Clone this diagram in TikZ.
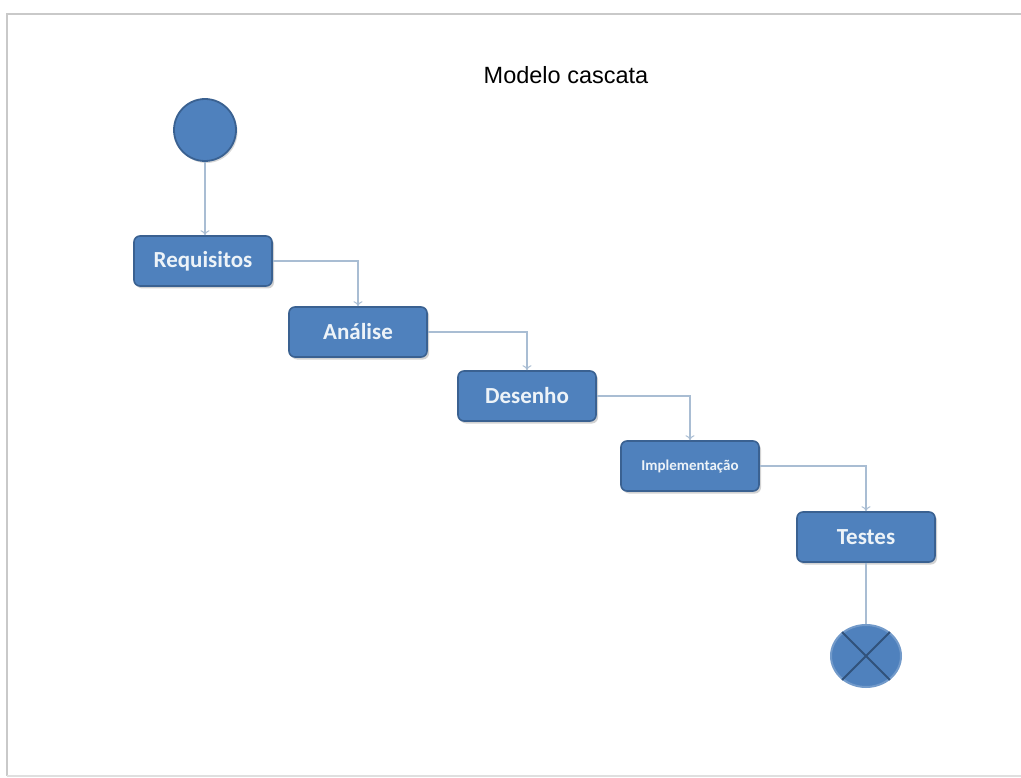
\documentclass[tikz,border=0pt]{standalone}
\usepackage{fontspec}
\setmainfont{Liberation Sans}
\newfontfamily\labelfont{Carlito}
\usetikzlibrary{arrows.meta,shadows,shapes.geometric}
\definecolor{stepfill}{HTML}{4F81BD}
\definecolor{stepline}{HTML}{3A6191}
\definecolor{flowline}{HTML}{A9BDD3}
\definecolor{framegray}{HTML}{C9C9C9}
\begin{document}
\begin{tikzpicture}[x=1pt,y=-1pt,
  stepbox/.style={draw=stepline, line width=1.6pt, fill=stepfill, rounded corners=6pt,
    minimum width=138pt, minimum height=50pt, inner sep=0pt,
    text=white!90!stepfill, font=\labelfont\bfseries\fontsize{23}{26}\selectfont,
    drop shadow={opacity=0.35, shadow xshift=2pt, shadow yshift=-2.5pt}},
  startdot/.style={circle, draw=stepline, line width=1.8pt, fill=stepfill, minimum size=62pt, inner sep=0pt,
    drop shadow={opacity=0.3, shadow xshift=1.5pt, shadow yshift=-2pt}},
  enddot/.style={ellipse, draw=stepfill!80!white, line width=2pt, fill=stepfill, minimum width=70pt, minimum height=62pt, inner sep=0pt},
  flow/.style={draw=flowline, line width=1.5pt, -{To[length=5pt,width=9pt,line width=1pt]}},
  plainflow/.style={draw=flowline, line width=1.5pt}
]
% page and frame
\useasboundingbox (0,0) rectangle (1021,778);
\fill[white] (0,0) rectangle (1021,778);
\draw[framegray, line width=2pt] (7,776) -- (7,14) -- (1021,14);
\draw[framegray!60, line width=1.2pt] (7,776) -- (1021,776);

% title
\node[font=\fontsize{23.5}{28}\selectfont] (title) at (566,75) {Modelo cascata};

% states
\node[startdot] (start) at (205,130) {};
\node[stepbox] (req) at (203,261) {Requisitos};
\node[stepbox] (ana) at (358,332) {Análise};
\node[stepbox] (des) at (527,396) {Desenho};
\node[stepbox, font=\labelfont\bfseries\fontsize{15}{18}\selectfont] (imp) at (690,466) {Implementação};
\node[stepbox] (tes) at (866,537) {Testes};
\node[enddot] (stop) at (866,656) {};
\draw[stepline!85!black, line width=1.8pt] (stop.45) -- (stop.225)
  (stop.135) -- (stop.315);

% connectors
\draw[flow] (start.south) -- (req.north -| start.south);
\draw[flow] (req.east) -| (ana.north);
\draw[flow] (ana.east) -| (des.north);
\draw[flow] (des.east) -| (imp.north);
\draw[flow] (imp.east) -| (tes.north);
\draw[plainflow] (tes.south) -- (stop.north);
\end{tikzpicture}
\end{document}
